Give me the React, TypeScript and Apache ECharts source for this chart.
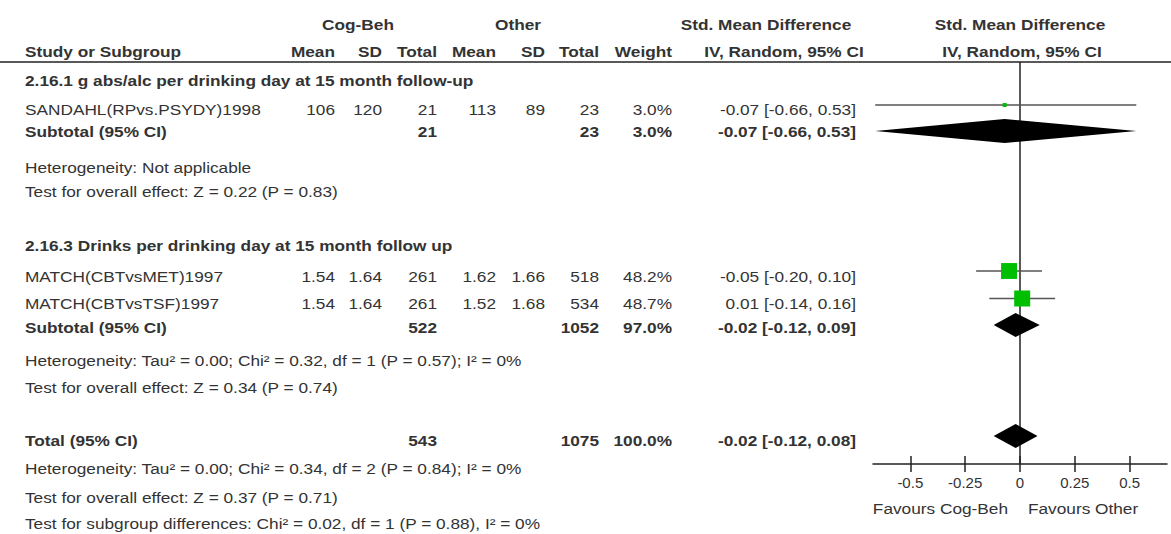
import React, { useEffect, useRef } from 'react';
import * as echarts from 'echarts';

// ---------- data ----------
const studyNames = ['SANDAHL(RPvs.PSYDY)1998', 'MATCH(CBTvsMET)1997', 'MATCH(CBTvsTSF)1997'];
const cogMean = [106, 1.54, 1.54];
const cogSD = [120, 1.64, 1.64];
const cogTotal = [21, 261, 261];
const otherMean = [113, 1.62, 1.52];
const otherSD = [89, 1.66, 1.68];
const otherTotal = [23, 518, 534];
const studyWeight = [3.0, 48.2, 48.7];
const studyEst = [-0.07, -0.05, 0.01];
const studyLo = [-0.66, -0.2, -0.14];
const studyHi = [0.53, 0.1, 0.16];

const groupTitles = [
  '2.16.1 g abs/alc per drinking day at 15 month follow-up',
  '2.16.3 Drinks per drinking day at 15 month follow up',
];
const pooledLabels = ['Subtotal (95% CI)', 'Subtotal (95% CI)', 'Total (95% CI)'];
const pooledCogTotal = [21, 522, 543];
const pooledOtherTotal = [23, 1052, 1075];
const pooledWeight = [3.0, 97.0, 100.0];
const pooledEst = [-0.07, -0.02, -0.02];
const pooledLo = [-0.66, -0.12, -0.12];
const pooledHi = [0.53, 0.09, 0.08];

const noteLines = [
  'Heterogeneity: Not applicable',
  'Test for overall effect: Z = 0.22 (P = 0.83)',
  'Heterogeneity: Tau² = 0.00; Chi² = 0.32, df = 1 (P = 0.57); I² = 0%',
  'Test for overall effect: Z = 0.34 (P = 0.74)',
  'Heterogeneity: Tau² = 0.00; Chi² = 0.34, df = 2 (P = 0.84); I² = 0%',
  'Test for overall effect: Z = 0.37 (P = 0.71)',
  'Test for subgroup differences: Chi² = 0.02, df = 1 (P = 0.88), I² = 0%',
];
const axisTicks = [-0.5, -0.25, 0, 0.25, 0.5];
const favourLabels = ['Favours Cog-Beh', 'Favours Other'];
const headerTop = ['Cog-Beh', 'Other', 'Std. Mean Difference', 'Std. Mean Difference'];
const headerCols = ['Study or Subgroup', 'Mean', 'SD', 'Total', 'Mean', 'SD', 'Total', 'Weight', 'IV, Random, 95% CI', 'IV, Random, 95% CI'];

// ---------- layout ----------
const W = 1171;
const H = 534;
const PLOT_L = 873;
const PLOT_R = 1167;
const PLOT_T = 62;
const AXIS_Y = 464;
const X_MIN = -0.67;
const X_MAX = 0.67;
const SX = 1.15;
const FONT = '"Liberation Sans", Arial, sans-serif';
const TEXT = '#333';

const HEAD1_Y = 24;
const HEAD2_Y = 51;
const GROUP_TITLE_Y = [80, 245];
const STUDY_TEXT_Y = [109, 276, 303];
const STUDY_MARK_Y = [105, 271, 298.5];
const POOLED_TEXT_Y = [131, 327, 440];
const POOLED_MARK_Y = [131, 325, 436];
const NOTE_Y = [167, 191, 360, 387, 468, 497, 523];
const FAVOUR_Y = 508;

const COL = {
  study: 25,
  cogMean: 335,
  cogSD: 382,
  cogTotal: 437,
  otherMean: 496,
  otherSD: 545,
  otherTotal: 599,
  weight: 672,
  ci: 856,
};
const HEAD1_X = [358, 518, 766, 1020];
const HEAD2_X = [COL.study, COL.cogMean, COL.cogSD, COL.cogTotal, COL.otherMean, COL.otherSD, COL.otherTotal, COL.weight, 784, 1022];
const HEAD2_ALIGN = ['left', 'right', 'right', 'right', 'right', 'right', 'right', 'right', 'center', 'center'];

const fmtCI = (e: number, l: number, h: number) => `${e.toFixed(2)} [${l.toFixed(2)}, ${h.toFixed(2)}]`;

function txt(text: string, x: number, y: number, align: string, bold = false) {
  return {
    type: 'text',
    x,
    y,
    scaleX: SX,
    silent: true,
    style: {
      text,
      align,
      verticalAlign: 'middle',
      fill: TEXT,
      font: `${bold ? 'bold ' : ''}15px ${FONT}`,
    },
  };
}

function buildGraphics() {
  const g: any[] = [];
  headerTop.forEach((t, i) => g.push(txt(t, HEAD1_X[i], HEAD1_Y, 'center', true)));
  headerCols.forEach((t, i) => g.push(txt(t, HEAD2_X[i], HEAD2_Y, HEAD2_ALIGN[i], true)));
  g.push({
    type: 'line',
    silent: true,
    shape: { x1: 0, y1: PLOT_T, x2: W, y2: PLOT_T },
    style: { stroke: '#222', lineWidth: 1.5 },
  });
  groupTitles.forEach((t, i) => g.push(txt(t, COL.study, GROUP_TITLE_Y[i], 'left', true)));
  studyNames.forEach((name, i) => {
    const y = STUDY_TEXT_Y[i];
    g.push(txt(name, COL.study, y, 'left'));
    g.push(txt(String(cogMean[i]), COL.cogMean, y, 'right'));
    g.push(txt(String(cogSD[i]), COL.cogSD, y, 'right'));
    g.push(txt(String(cogTotal[i]), COL.cogTotal, y, 'right'));
    g.push(txt(String(otherMean[i]), COL.otherMean, y, 'right'));
    g.push(txt(String(otherSD[i]), COL.otherSD, y, 'right'));
    g.push(txt(String(otherTotal[i]), COL.otherTotal, y, 'right'));
    g.push(txt(studyWeight[i].toFixed(1) + '%', COL.weight, y, 'right'));
    g.push(txt(fmtCI(studyEst[i], studyLo[i], studyHi[i]), COL.ci, y, 'right'));
  });
  pooledLabels.forEach((label, i) => {
    const y = POOLED_TEXT_Y[i];
    g.push(txt(label, COL.study, y, 'left', true));
    g.push(txt(String(pooledCogTotal[i]), COL.cogTotal, y, 'right', true));
    g.push(txt(String(pooledOtherTotal[i]), COL.otherTotal, y, 'right', true));
    g.push(txt(pooledWeight[i].toFixed(1) + '%', COL.weight, y, 'right', true));
    g.push(txt(fmtCI(pooledEst[i], pooledLo[i], pooledHi[i]), COL.ci, y, 'right', true));
  });
  noteLines.forEach((t, i) => g.push(txt(t, COL.study, NOTE_Y[i], 'left')));
  g.push(txt(favourLabels[0], 1008, FAVOUR_Y, 'right'));
  g.push(txt(favourLabels[1], 1028, FAVOUR_Y, 'left'));
  return g;
}

export default function App() {
  const ref = useRef<HTMLDivElement>(null);
  useEffect(() => {
    if (!ref.current) return;
    const chart = echarts.init(ref.current, undefined, { renderer: 'svg' });
    const studyData = studyNames.map((_, i) => [studyEst[i], studyLo[i], studyHi[i], studyWeight[i], STUDY_MARK_Y[i]]);
    const pooledData = pooledLabels.map((_, i) => [pooledEst[i], pooledLo[i], pooledHi[i], pooledWeight[i], POOLED_MARK_Y[i]]);
    const maxW = Math.max(...studyWeight);
    const axisCommon = {
      type: 'value',
      min: X_MIN,
      max: X_MAX,
      position: 'bottom',
      splitLine: { show: false },
    };
    chart.setOption({
      animation: false,
      backgroundColor: '#fff',
      grid: { left: PLOT_L, right: W - PLOT_R, top: PLOT_T, bottom: H - AXIS_Y, containLabel: false },
      xAxis: [
        {
          ...axisCommon,
          axisLine: { show: true, lineStyle: { color: '#222', width: 1.5 } },
          axisTick: { show: true, customValues: axisTicks, inside: false, length: 8, lineStyle: { color: '#222', width: 1.5 } },
          axisLabel: {
            show: true,
            customValues: axisTicks,
            formatter: (v: number) => String(v),
            color: TEXT,
            fontSize: 15,
            fontFamily: FONT,
            margin: 11,
          },
        },
        {
          ...axisCommon,
          axisLine: { show: false },
          axisTick: { show: true, customValues: axisTicks, inside: true, length: 8, lineStyle: { color: '#222', width: 1.5 } },
          axisLabel: { show: false },
        },
      ],
      yAxis: { type: 'value', min: PLOT_T, max: AXIS_Y, inverse: true, show: false },
      series: [
        {
          type: 'custom',
          z: 1,
          silent: true,
          clip: false,
          data: [[0]],
          renderItem: (params: any, api: any) => {
            const cs = params.coordSys;
            const x = api.coord([api.value(0), PLOT_T])[0];
            return {
              type: 'line',
              shape: { x1: x, y1: cs.y, x2: x, y2: cs.y + cs.height },
              style: { stroke: '#222', lineWidth: 1.5 },
            };
          },
        },
        {
          type: 'custom',
          z: 3,
          silent: true,
          clip: false,
          data: studyData,
          renderItem: (_params: any, api: any) => {
            const est = api.value(0);
            const lo = api.value(1);
            const hi = api.value(2);
            const w = api.value(3);
            const y = api.value(4);
            const pLo = api.coord([lo, y]);
            const pHi = api.coord([hi, y]);
            const pE = api.coord([est, y]);
            const s = 16 * Math.sqrt(w / maxW);
            return {
              type: 'group',
              children: [
                { type: 'line', shape: { x1: pLo[0], y1: pLo[1], x2: pHi[0], y2: pHi[1] }, style: { stroke: '#555', lineWidth: 1.5 } },
                { type: 'rect', shape: { x: pE[0] - s / 2, y: pE[1] - s / 2, width: s, height: s }, style: { fill: '#00BF00' } },
              ],
            };
          },
        },
        {
          type: 'custom',
          z: 3,
          silent: true,
          clip: false,
          data: pooledData,
          renderItem: (_params: any, api: any) => {
            const est = api.value(0);
            const lo = api.value(1);
            const hi = api.value(2);
            const y = api.value(4);
            const pLo = api.coord([lo, y]);
            const pHi = api.coord([hi, y]);
            const pE = api.coord([est, y]);
            const hh = 12;
            return {
              type: 'polygon',
              shape: { points: [[pLo[0], pLo[1]], [pE[0], pE[1] - hh], [pHi[0], pHi[1]], [pE[0], pE[1] + hh]] },
              style: { fill: '#000' },
            };
          },
        },
      ],
      graphic: buildGraphics(),
    });
    return () => chart.dispose();
  }, []);
  return <div ref={ref} style={{ position: 'absolute', left: 0, top: 0, width: W, height: H, background: '#fff' }} />;
}
